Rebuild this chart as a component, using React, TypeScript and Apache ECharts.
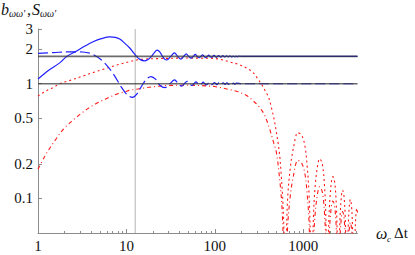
import React, { useEffect, useRef } from 'react';
import * as echarts from 'echarts';

const X_MIN = 1;
const X_MAX = 4100;
const Y_MIN = 0.05;
const Y_MAX = 3;

const xTickValues = [1, 10, 100, 1000];
const xTickLabels = ['1', '10', '100', '1000'];
const xMinorTicks = [2, 3, 4, 5, 6, 7, 8, 9, 20, 30, 40, 50, 60, 70, 80, 90, 200, 300, 400, 500, 600, 700, 800, 900, 2000, 3000, 4000];
const yTickValues = [0.1, 0.2, 0.5, 1, 2, 3];
const yTickLabels = ['0.1', '0.2', '0.5', '1', '2', '3'];

const referenceLevels = [1, 1.732];
const cutoffOmega = 12.566;

const blueSolid: number[][] = [
  [1, 1.10], [1.3, 1.30], [1.76, 1.52], [2.11, 1.73], [2.74, 1.93], [3.4, 2.13], [4.2, 2.32], [5.2, 2.47],
  [6.5, 2.56], [7.5, 2.54], [8.4, 2.45], [9.6, 2.25], [10.9, 2.05], [12.0, 1.87], [13.0, 1.73], [14.2, 1.63],
  [16.0, 1.58], [17.6, 1.63], [19.2, 1.73], [20.8, 1.88], [22.3, 1.96], [23.9, 1.89], [25.5, 1.74], [27, 1.64],
  [28.6, 1.61], [31.7, 1.73], [34.9, 1.86], [38, 1.73], [41.2, 1.64], [44.3, 1.73], [47.5, 1.82], [50.6, 1.73],
  [53.8, 1.67], [56.9, 1.73], [60, 1.80], [63.2, 1.73], [66.3, 1.685], [69.5, 1.73], [72.6, 1.785], [75.8, 1.73],
  [78.9, 1.69], [82, 1.73], [85.2, 1.775], [88.4, 1.73], [91.5, 1.695], [97.8, 1.765], [104, 1.70], [110.4, 1.76],
  [116.7, 1.705], [123, 1.755], [129.3, 1.71], [135.6, 1.75], [142, 1.712], [148, 1.748], [154.6, 1.715],
  [161, 1.745], [167, 1.718], [173.5, 1.742], [180, 1.72], [186, 1.74], [200, 1.732], [4100, 1.732],
];

const blueDashed: number[][] = [
  [1, 1.84], [1.5, 1.87], [2.3, 1.90], [3.2, 1.89], [4.2, 1.80], [5.5, 1.55], [7.1, 1.22], [8.8, 0.93],
  [10.2, 0.80], [11.7, 0.76], [13.2, 0.82], [14.8, 0.95], [16.9, 1.10], [19, 1.155], [21.5, 1.09], [23.9, 0.97],
  [27.2, 0.925], [31, 1.0], [35, 1.08], [38.5, 1.0], [42, 0.955], [45.2, 1.0], [48.5, 1.05], [51.7, 1.0],
  [55, 0.965], [58, 1.0], [61.2, 1.04], [64.3, 1.0], [67.5, 0.972], [70.6, 1.0], [73.8, 1.033], [77, 1.0],
  [80, 0.977], [83.2, 1.0], [86.3, 1.028], [89.5, 1.0], [92.6, 0.98], [99, 1.024], [105.3, 0.982], [111.6, 1.022],
  [117.9, 0.984], [124.2, 1.02], [130.5, 0.985], [136.8, 1.018], [143, 0.986], [149.4, 1.016], [155.7, 0.988],
  [162, 1.014], [168, 0.99], [175, 1.012], [200, 1.0], [4100, 1.0],
];

const redDotted: number[][] = [
  [1, 0.78], [1.2, 0.855], [1.49, 0.93], [1.77, 1.0], [2.3, 1.07], [3.25, 1.17], [4.3, 1.26], [5.5, 1.34],
  [7, 1.42], [8.4, 1.48], [10.9, 1.56], [13, 1.61], [16.2, 1.64], [22, 1.655], [30, 1.665], [45, 1.675],
  [70, 1.67], [99, 1.66], [125, 1.61], [147, 1.55], [183, 1.48], [228, 1.37], [271, 1.25], [309, 1.09],
  [340, 0.98], [367, 0.88], [403, 0.77], [438, 0.61], [470, 0.48], [497, 0.375], [520, 0.3], [541, 0.235],
  [563, 0.16], [587, 0.095], [605, 0.05], [620, 0.02],
  [639, 0.04], [665, 0.1], [710, 0.18], [770, 0.27], [870, 0.375], [960, 0.355], [1040, 0.29], [1100, 0.2],
  [1160, 0.11], [1215, 0.035], [1240, 0.02],
  [1259, 0.021], [1302, 0.069], [1364, 0.13], [1457, 0.198], [1530, 0.222], [1643, 0.198], [1736, 0.13],
  [1798, 0.069], [1841, 0.021], [1860, 0.02],
  [1879, 0.015], [1922, 0.048], [1984, 0.091], [2077, 0.138], [2160, 0.155], [2263, 0.138], [2356, 0.091],
  [2418, 0.048], [2461, 0.015], [2480, 0.02],
  [2499, 0.011], [2542, 0.036], [2604, 0.069], [2697, 0.105], [2780, 0.118], [2883, 0.105], [2976, 0.069],
  [3038, 0.036], [3081, 0.011], [3100, 0.02],
  [3119, 0.009], [3162, 0.03], [3224, 0.058], [3317, 0.087], [3400, 0.098], [3503, 0.087], [3596, 0.058],
  [3658, 0.03], [3701, 0.009], [3720, 0.02],
  [3739, 0.008], [3782, 0.025], [3844, 0.048], [3937, 0.073], [4030, 0.082], [4123, 0.073],
];

const redDashDot: number[][] = [
  [1, 0.18], [1.2, 0.235], [1.37, 0.277], [1.6, 0.33], [1.93, 0.40], [2.4, 0.47], [2.98, 0.54], [3.7, 0.61],
  [4.6, 0.675], [6, 0.745], [7.75, 0.81], [9.6, 0.85], [10.9, 0.877], [13, 0.895], [16, 0.92], [22.8, 0.95],
  [30, 0.965], [45, 0.97], [65, 0.965], [99, 0.945], [141, 0.895], [183, 0.85], [228, 0.79], [271, 0.71],
  [310, 0.64], [353, 0.56], [385, 0.48], [418, 0.40], [460, 0.31], [497, 0.25], [541, 0.146], [573, 0.086],
  [600, 0.035], [620, 0.02],
  [639, 0.023], [665, 0.057], [710, 0.103], [770, 0.155], [870, 0.215], [960, 0.203], [1040, 0.166],
  [1100, 0.115], [1160, 0.063], [1215, 0.02], [1240, 0.02],
  [1259, 0.012], [1302, 0.039], [1364, 0.075], [1457, 0.113], [1530, 0.127], [1643, 0.113], [1736, 0.075],
  [1798, 0.039], [1841, 0.012], [1860, 0.02],
  [1879, 0.009], [1922, 0.029], [1984, 0.056], [2077, 0.085], [2160, 0.095], [2263, 0.085], [2356, 0.056],
  [2418, 0.029], [2461, 0.009], [2480, 0.02],
  [2499, 0.007], [2542, 0.024], [2604, 0.045], [2697, 0.069], [2780, 0.077], [2883, 0.069], [2976, 0.045],
  [3038, 0.024], [3081, 0.007], [3100, 0.02],
  [3119, 0.006], [3162, 0.019], [3224, 0.036], [3317, 0.055], [3400, 0.062], [3503, 0.055], [3596, 0.036],
  [3658, 0.019], [3701, 0.006], [3720, 0.02],
  [3739, 0.005], [3782, 0.015], [3844, 0.029], [3937, 0.045], [4030, 0.05], [4123, 0.045],
];

const lg = (v: number) => Math.log10(v);
const toLog = (pts: number[][]) => pts.map(([x, y]) => [lg(x), lg(y)]);

const SERIF = 'Liberation Serif';
const AXIS_GRAY = '#8c8c8c';

function labelFor(values: number[], labels: string[], v: number) {
  const i = values.findIndex((t) => Math.abs(lg(t) - v) < 1e-6);
  return i >= 0 ? labels[i] : '';
}

const txt = (left: number, top: number, text: string, size: number, italic: boolean) => ({
  type: 'text',
  left,
  top,
  style: {
    text,
    fontFamily: SERIF,
    fontSize: size,
    fontStyle: italic ? 'italic' : 'normal',
    fill: '#111',
  },
});

export default function App() {
  const ref = useRef<HTMLDivElement>(null);
  useEffect(() => {
    if (!ref.current) return;
    const chart = echarts.init(ref.current, undefined, { renderer: 'svg' });
    const xMinL = lg(X_MIN);
    const xMaxL = lg(X_MAX);
    const yMinL = lg(Y_MIN);
    const yMaxL = lg(Y_MAX) + 1e-9;

    const curve = (data: number[][], color: string, type: any, width: number, z: number) => ({
      type: 'line',
      data: toLog(data),
      showSymbol: false,
      symbol: 'none',
      smooth: 0.35,
      clip: true,
      z,
      lineStyle: { color, width, type },
      silent: true,
    });

    const option: any = {
      animation: false,
      textStyle: { fontFamily: SERIF },
      grid: { left: 38, right: 57.5, top: 29, bottom: 22, containLabel: false },
      xAxis: [
        {
          type: 'value',
          min: xMinL,
          max: xMaxL,
          axisLine: { show: true, onZero: false, lineStyle: { color: AXIS_GRAY, width: 1 } },
          axisTick: { show: true, inside: true, length: 4, customValues: xTickValues.map(lg), lineStyle: { color: AXIS_GRAY } },
          axisLabel: {
            show: true,
            customValues: xTickValues.map(lg),
            formatter: (v: number) => labelFor(xTickValues, xTickLabels, v),
            fontFamily: SERIF,
            fontSize: 15,
            color: '#111',
            margin: 5,
          },
          splitLine: { show: false },
        },
        {
          type: 'value',
          min: xMinL,
          max: xMaxL,
          position: 'bottom',
          axisLine: { show: false, onZero: false },
          axisTick: { show: true, inside: true, length: 2, customValues: xMinorTicks.map(lg), lineStyle: { color: AXIS_GRAY } },
          axisLabel: { show: false },
          splitLine: { show: false },
        },
      ],
      yAxis: [
        {
          type: 'value',
          min: yMinL,
          max: yMaxL,
          axisLine: { show: true, onZero: false, lineStyle: { color: AXIS_GRAY, width: 1 } },
          axisTick: { show: true, inside: true, length: 4, customValues: yTickValues.map(lg), lineStyle: { color: AXIS_GRAY } },
          axisLabel: {
            show: true,
            customValues: yTickValues.map(lg),
            formatter: (v: number) => labelFor(yTickValues, yTickLabels, v),
            fontFamily: SERIF,
            fontSize: 15,
            color: '#111',
            margin: 5,
          },
          splitLine: { show: false },
        },
      ],
      series: [
        {
          type: 'line',
          data: [[lg(cutoffOmega), yMinL], [lg(cutoffOmega), lg(Y_MAX)]],
          showSymbol: false,
          symbol: 'none',
          z: 1,
          lineStyle: { color: '#b4b4b4', width: 1 },
          silent: true,
        },
        curve(redDashDot, '#ff1a1a', [4, 3, 1, 3], 1.1, 3),
        curve(redDotted, '#ff1a1a', [2, 3], 1.1, 3),
        curve(blueDashed, '#1f1fff', [10, 4], 1.2, 4),
        curve(blueSolid, '#1f1fff', 'solid', 1.2, 4),
        ...referenceLevels.map((lvl) => ({
          type: 'line',
          data: [[lg(X_MIN), lg(lvl)], [lg(X_MAX), lg(lvl)]],
          showSymbol: false,
          symbol: 'none',
          z: 5,
          lineStyle: { color: '#333333', width: 1.6, opacity: 0.72 },
          silent: true,
        })),
      ],
      graphic: [
        txt(1, 1, 'b', 16, true),
        txt(9, 8, "ωω'", 10, true),
        txt(27, 1, ',', 16, false),
        txt(32, 1, 'S', 16, true),
        txt(40, 8, "ωω'", 10, true),
        txt(376, 225, 'ω', 16, true),
        txt(387, 234, 'c', 9, true),
        txt(394, 225, 'Δt', 15, false),
      ],
    };
    chart.setOption(option);
    return () => chart.dispose();
  }, []);
  return <div ref={ref} style={{ position: 'absolute', left: 0, top: 0, width: 415, height: 255 }} />;
}
